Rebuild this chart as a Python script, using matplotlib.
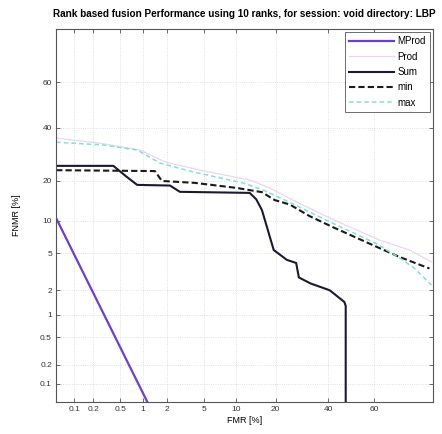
import math
import numpy as np
import matplotlib
matplotlib.use("Agg")
import matplotlib.pyplot as plt

plt.rcParams["font.family"] = ["Liberation Sans", "DejaVu Sans"]

title = "Rank based fusion Performance using 10 ranks, for session: void directory: LBP"
x_label = "FMR [%]"
y_label = "FNMR [%]"
tick_values = [0.1, 0.2, 0.5, 1, 2, 5, 10, 20, 40, 60]
tick_labels = ["0.1", "0.2", "0.5", "1", "2", "5", "10", "20", "40", "60"]

# DET curves: false match rate vs false non-match rate, both in percent
mprod_fmr = [0.05, 1.15]
mprod_fnmr = [10.5, 0.05]

prod_fmr = [0.05, 0.255, 0.93, 1.9, 4.6, 12.9, 18.2, 25.8, 40.6, 62.5, 74.3, 81.5]
prod_fnmr = [35.7, 33.6, 30.9, 26.4, 23.5, 20.3, 17.9, 14.6, 10.5, 6.7, 5.4, 4.1]

sum_fmr = [0.05, 0.40, 0.60, 0.85, 2.17, 2.8, 12.9, 14.5, 16.0, 19.4, 23.7, 27.0,
           28.0, 32.5, 40.6, 47.0, 47.6, 47.6]
sum_fnmr = [25.0, 25.0, 21.5, 18.8, 18.6, 16.8, 16.5, 14.8, 12.2, 5.4, 4.3, 4.0,
            2.8, 2.4, 2.0, 1.45, 1.3, 0.0]

min_fmr = [0.05, 1.43, 1.74, 4.08, 10.1, 16.0, 19.7, 24.7, 32.2, 41.9, 61.2, 70.6, 80.9]
min_fnmr = [23.5, 23.2, 20.0, 19.4, 17.9, 16.7, 14.6, 13.5, 10.9, 8.8, 5.8, 4.6, 3.5]

max_fmr = [0.05, 0.28, 0.85, 1.65, 3.9, 11.4, 16.8, 24.7, 41.9, 61.2, 70.6, 76.1, 81.5]
max_fnmr = [34.0, 32.9, 30.9, 26.0, 22.9, 19.4, 17.1, 14.0, 9.5, 6.2, 4.5, 3.5, 2.3]


def _probit(p):
    """Inverse standard normal CDF (Acklam's rational approximation)."""
    p = np.clip(np.asarray(p, dtype=float), 1e-12, 1 - 1e-12)
    a = [-3.969683028665376e+01, 2.209460984245205e+02, -2.759285104469687e+02,
         1.383577518672690e+02, -3.066479806614716e+01, 2.506628277459239e+00]
    b = [-5.447609879822406e+01, 1.615858368580409e+02, -1.556989798598866e+02,
         6.680131188771972e+01, -1.328068155288572e+01]
    c = [-7.784894002430293e-03, -3.223964580411365e-01, -2.400758277161838e+00,
         -2.549671010161545e+00, 4.374664141464968e+00, 2.938163982698783e+00]
    d = [7.784695709041462e-03, 3.224671290700398e-01, 2.445134137142996e+00,
         3.754408661907416e+00]
    plow = 0.02425
    out = np.empty_like(p)
    lo = p < plow
    hi = p > 1 - plow
    mid = ~(lo | hi)
    q = np.sqrt(-2 * np.log(p[lo]))
    out[lo] = (((((c[0]*q + c[1])*q + c[2])*q + c[3])*q + c[4])*q + c[5]) / \
              ((((d[0]*q + d[1])*q + d[2])*q + d[3])*q + 1)
    q = np.sqrt(-2 * np.log(1 - p[hi]))
    out[hi] = -(((((c[0]*q + c[1])*q + c[2])*q + c[3])*q + c[4])*q + c[5]) / \
               ((((d[0]*q + d[1])*q + d[2])*q + d[3])*q + 1)
    q = p[mid] - 0.5
    r = q * q
    out[mid] = (((((a[0]*r + a[1])*r + a[2])*r + a[3])*r + a[4])*r + a[5]) * q / \
               (((((b[0]*r + b[1])*r + b[2])*r + b[3])*r + b[4])*r + 1)
    return out


_erf = np.vectorize(math.erf)


def pct_to_dev(v):
    return _probit(np.asarray(v, dtype=float) / 100.0)


def dev_to_pct(z):
    z = np.asarray(z, dtype=float)
    return 100.0 * 0.5 * (1.0 + _erf(z / math.sqrt(2.0)))


fig = plt.figure(figsize=(4.42, 4.34), dpi=100)
ax = fig.add_axes([0.127, 0.074, 0.853, 0.859])

ax.set_xscale("function", functions=(pct_to_dev, dev_to_pct))
ax.set_yscale("function", functions=(pct_to_dev, dev_to_pct))

ax.plot(mprod_fmr, mprod_fnmr, color="#6b3fd2", lw=1.6, label="MProd")
ax.plot(prod_fmr, prod_fnmr, color="#ecd4f4", lw=0.9, label="Prod")
ax.plot(sum_fmr, sum_fnmr, color="#1a1a2e", lw=1.5, label="Sum")
ax.plot(min_fmr, min_fnmr, color="#1a1a1a", lw=1.5, ls=(0, (3, 1.5)), label="min")
ax.plot(max_fmr, max_fnmr, color="#7fe3cf", lw=1.1, ls=(0, (3, 2)), label="max")

ax.set_xlim(0.05, 82)
ax.set_ylim(0.05, 80)
ax.set_xticks(tick_values)
ax.set_xticklabels(tick_labels)
ax.set_yticks(tick_values)
ax.set_yticklabels(tick_labels)
ax.minorticks_off()
ax.tick_params(direction="in", length=3, width=0.5, top=True, right=True,
               labelsize=6, colors="#333333", pad=3)
ax.grid(True, color="#d8d8d8", ls=":", lw=0.6)
for s in ax.spines.values():
    s.set_color("#555555")
    s.set_linewidth(0.8)

ax.set_title(title, fontsize=7.2, fontweight="bold", pad=9)
ax.set_xlabel(x_label, fontsize=6.5, labelpad=2)
ax.set_ylabel(y_label, fontsize=6.5, labelpad=14)

leg = ax.legend(loc="upper right", fontsize=7, handlelength=4.6, fancybox=False,
                framealpha=1, edgecolor="#555555", borderpad=0.45, labelspacing=0.55,
                handletextpad=0.4, borderaxespad=0.3)
leg.get_frame().set_linewidth(0.6)

fig.savefig("out.png", dpi=100)
